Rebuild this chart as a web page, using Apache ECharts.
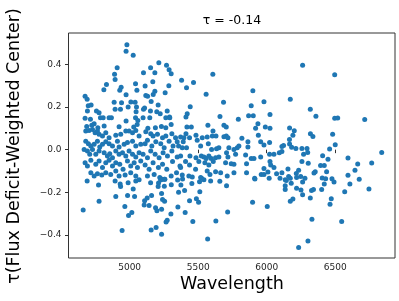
<!DOCTYPE html>
<html>
<head>
<meta charset="utf-8">
<script src="https://cdn.jsdelivr.net/npm/echarts@6/dist/echarts.min.js"></script>
<style>
  html, body { margin: 0; padding: 0; background: #fff; }
  #chart { width: 399px; height: 301px; }
</style>
</head>
<body>
<div id="chart"></div>
<script>
// tick labels
const xTicks = [5000, 5500, 6000, 6500];
const yTicks = [-0.4, -0.2, 0.0, 0.2, 0.4];
const titleText = 'τ = -0.14';
const xName = 'Wavelength';
const yName = 'τ(Flux Deficit-Weighted Center)';

// [wavelength, tau], grouped by area
const topPoints = [
  [4980,0.492],[4974,0.462],[5026,0.443],[4909,0.384],[4890,0.354],[4894,0.329],[4831,0.306],[4812,0.281],
  [4938,0.293],[4928,0.278],[4974,0.258],[4675,0.251],[4690,0.236],[4698,0.206],[4719,0.209],[4887,0.222],
  [4941,0.220],[5009,0.223],[5040,0.222],[5050,0.200],[5043,0.309],[5053,0.279],[5101,0.361],[5153,0.384],
  [5184,0.361],[5213,0.407],[5269,0.396],[5288,0.375],[5303,0.356],[5113,0.298],[5169,0.318],[5286,0.300],
  [5259,0.267],[5118,0.254],[5131,0.251],[5172,0.259],[5184,0.274],[5157,0.226],[5208,0.209],[5109,0.195],
  [5379,0.326],[5415,0.290],[5466,0.315],[5607,0.354],[5558,0.260],[5685,0.222],[5899,0.276],[5887,0.206],
  [5980,0.225],[5442,0.201],[6262,0.396],[6496,0.351],[6172,0.236]
];

const denseLeft = [
  [4692,0.181],[4777,0.173],[4758,0.181],[4894,0.190],[4933,0.189],[4989,0.200],[5047,0.178],[5101,0.190],
  [5152,0.181],[5198,0.178],[5223,0.168],[5274,0.181],[5291,0.153],
  [4675,0.147],[4714,0.143],[4787,0.150],[4807,0.150],[4850,0.150],[4867,0.150],[4974,0.134],[5043,0.150],
  [5060,0.137],[5098,0.150],[5147,0.150],[5264,0.150],[5293,0.150],
  [4687,0.109],[4724,0.115],[4741,0.122],[4768,0.103],[4814,0.111],[4923,0.107],[5030,0.106],[5055,0.118],
  [5133,0.100],[5188,0.103],[5232,0.109],[5264,0.103],[5303,0.118],
  [4680,0.087],[4704,0.090],[4729,0.095],[4748,0.079],[4765,0.087],[4777,0.072],[4802,0.064],[4826,0.079],
  [4850,0.056],[4899,0.068],[4935,0.072],[4972,0.087],[4996,0.087],[5021,0.079],[5045,0.090],[5069,0.064],
  [5118,0.084],[5154,0.075],[5171,0.064],[5203,0.072],[5240,0.056],[5264,0.064],[5308,0.075],
  [4680,0.040],[4699,0.028],[4717,0.017],[4741,0.025],[4765,0.040],[4782,0.012],[4802,0.025],[4826,0.037],
  [4850,0.028],[4875,0.017],[4911,0.040],[4923,0.012],[4960,0.025],[4984,0.033],[5021,0.040],[5045,0.017],
  [5081,0.025],[5113,0.028],[5130,0.044],[5162,0.017],[5191,0.037],[5227,0.028],[5252,0.009],[5288,0.040],
  [5317,0.017],
  [4668,0.001],[4692,-0.006],[4709,-0.022],[4729,0.001],[4753,-0.022],[4777,-0.006],[4814,-0.014],[4838,-0.030],
  [4855,-0.019],[4875,-0.038],[4899,-0.006],[4923,-0.022],[4948,-0.014],[4972,-0.030],[4996,-0.006],[5021,-0.022],
  [5045,-0.035],[5069,-0.014],[5098,-0.022],[5130,-0.038],[5154,-0.006],[5186,-0.022],[5215,-0.038],[5244,-0.014],
  [5276,-0.030],[5308,-0.006],
  [4675,-0.061],[4692,-0.077],[4717,-0.050],[4753,-0.069],[4777,-0.053],[4802,-0.084],[4826,-0.061],[4850,-0.050],
  [4875,-0.077],[4899,-0.061],[4928,-0.069],[4952,-0.092],[4984,-0.053],[5008,-0.077],[5033,-0.061],[5057,-0.084],
  [5081,-0.053],[5113,-0.072],[5142,-0.092],[5171,-0.061],[5210,-0.084],[5240,-0.069],[5271,-0.092],[5313,-0.056],
  [4717,-0.108],[4741,-0.123],[4765,-0.113],[4797,-0.119],[4826,-0.108],[4862,-0.116],[4899,-0.100],[4923,-0.123],
  [4967,-0.119],[5008,-0.108],[5045,-0.123],[5130,-0.123],[5179,-0.116],[5220,-0.131],[5257,-0.139],[5303,-0.123]
];

const denseMid = [
  [5420,0.168],[5411,0.153],[5659,0.156],[5793,0.143],[5868,0.159],[5902,0.159],[6024,0.165],
  [5418,0.106],[5450,0.106],[5571,0.115],[5688,0.115],[5705,0.106],[5919,0.100],[5936,0.122],[5990,0.106],
  [6024,0.100],
  [5335,0.056],[5372,0.059],[5396,0.056],[5411,0.075],[5437,0.056],[5484,0.068],[5530,0.056],[5566,0.059],
  [5603,0.064],[5608,0.087],[5630,0.064],[5688,0.061],[5705,0.064],[5717,0.056],[5819,0.053],[5863,0.037],
  [5939,0.068],[5956,0.037],
  [5347,0.037],[5391,0.037],[5357,0.017],[5384,0.009],[5415,0.009],[5493,0.044],[5518,0.017],[5574,0.028],
  [5598,0.001],[5634,0.004],[5651,0.009],[5724,0.009],[5761,0.001],[5785,0.009],[5797,0.017],[5863,0.012],
  [5980,0.022],[6021,0.033],
  [5347,-0.035],[5372,-0.030],[5440,-0.030],[5484,-0.038],[5523,-0.030],[5542,-0.035],[5559,-0.041],[5578,-0.030],
  [5595,-0.041],[5627,-0.038],[5651,-0.035],[5707,-0.014],[5717,-0.035],[5773,-0.022],[5846,-0.025],[5887,-0.041],
  [5907,-0.041],[5956,-0.035],[6021,-0.022],[6053,-0.022],[6092,-0.014],
  [5367,-0.077],[5372,-0.084],[5408,-0.056],[5437,-0.072],[5505,-0.056],[5549,-0.061],[5578,-0.072],[5610,-0.056],
  [5700,-0.061],[5741,-0.066],[5761,-0.069],[5853,-0.066],[5980,-0.088],[6024,-0.056],[6029,-0.072],[6053,-0.084],
  [5342,-0.108],[5384,-0.119],[5432,-0.123],[5481,-0.092],[5518,-0.131],[5566,-0.100],[5586,-0.116],[5627,-0.103],
  [5664,-0.108],[5712,-0.123],[5761,-0.108],[5853,-0.108],[5912,-0.134],[5960,-0.116],[5980,-0.116],[6009,-0.105],
  [6072,-0.113],[6097,-0.134],[5457,-0.128],[5591,-0.147]
];

const rightPoints = [
  [6318,0.189],[6359,0.157],[6496,0.147],[6518,0.148],[6715,0.141],[6167,0.101],[6201,0.089],[6191,0.068],
  [6166,0.048],[6319,0.075],[6337,0.062],[6481,0.072],[6500,0.023],[6459,0.003],[6123,0.019],[6111,0.015],
  [6167,0.026],[6182,0.011],[6213,0.006],[6257,0.006],[6294,0.006],[6299,-0.013],[6269,-0.022],[6111,-0.009],
  [6408,-0.028],[6447,-0.045],[6593,-0.039],[6839,-0.013],[6257,-0.056],[6303,-0.064],[6393,-0.074],[6420,-0.074],
  [6664,-0.067],[6766,-0.063],[6155,-0.091],[6233,-0.096],[6216,-0.112],[6111,-0.108],[6437,-0.103],[6354,-0.103],
  [6345,-0.110],[6644,-0.097],[6160,-0.126],[6172,-0.134],[6218,-0.130],[6248,-0.126],[6279,-0.134],[6135,-0.141],
  [6143,-0.145],[6405,-0.133],[6430,-0.136],[6476,-0.136],[6593,-0.120],[6675,-0.139],[6262,-0.152],[6491,-0.152]
];

const lowerPoints = [
  [4690,-0.147],[4773,-0.166],[4894,-0.147],[4931,-0.161],[4934,-0.173],[4989,-0.155],[5045,-0.147],[5069,-0.141],
  [5026,-0.185],[5153,-0.155],[5211,-0.156],[5208,-0.173],[5226,-0.142],[5240,-0.139],[5255,-0.139],[5253,-0.172],
  [5304,-0.164],[5233,-0.205],[4777,-0.242],[4899,-0.220],[4985,-0.215],[5036,-0.220],[5128,-0.227],[5109,-0.239],
  [5160,-0.215],[5106,-0.259],[5142,-0.262],[5189,-0.272],[5199,-0.286],[5233,-0.280],[5240,-0.234],[5255,-0.242],
  [5301,-0.302],[4965,-0.266],[5016,-0.295],[4992,-0.309],[4661,-0.283],[5274,-0.331],[5266,-0.339],[4945,-0.379],
  [5157,-0.377],[5193,-0.365],[5233,-0.397],
  [5350,-0.142],[5386,-0.138],[5525,-0.134],[5542,-0.141],[5510,-0.150],[5658,-0.148],[5707,-0.169],[5914,-0.138],
  [6018,-0.134],[5374,-0.166],[5454,-0.159],[5357,-0.200],[5401,-0.191],[5512,-0.197],[5437,-0.239],[5487,-0.230],
  [5503,-0.247],[5352,-0.269],[5405,-0.295],[5715,-0.292],[5897,-0.247],[6004,-0.266],[5461,-0.337],[5629,-0.334],
  [5569,-0.419],
  [6179,-0.158],[6420,-0.161],[6607,-0.161],[6135,-0.169],[6135,-0.187],[6218,-0.181],[6250,-0.189],[6262,-0.211],
  [6327,-0.191],[6341,-0.187],[6401,-0.187],[6569,-0.197],[6746,-0.185],[6191,-0.231],[6172,-0.242],[6318,-0.227],
  [6471,-0.230],[6462,-0.256],[6330,-0.326],[6547,-0.337],[6301,-0.428],[6233,-0.459]
];

const allPoints = [].concat(topPoints, denseLeft, denseMid, rightPoints, lowerPoints);

const chart = echarts.init(document.getElementById('chart'));

const tickFont = { fontFamily: 'DejaVu Sans', fontSize: 9, color: '#262626' };

chart.setOption({
  animation: false,
  grid: {
    left: 68.5, right: 4, top: 33, bottom: 43,
    show: true, borderColor: '#333', borderWidth: 1, backgroundColor: 'transparent'
  },
  xAxis: {
    type: 'value',
    min: 4554, max: 6936,
    axisLine: { show: false },
    splitLine: { show: false },
    axisTick: { show: true, length: 3.5, inside: false, lineStyle: { color: '#333' }, customValues: xTicks },
    axisLabel: Object.assign({ margin: 5, customValues: xTicks, formatter: v => String(v) }, tickFont)
  },
  yAxis: {
    type: 'value',
    min: -0.508, max: 0.547,
    axisLine: { show: false },
    splitLine: { show: false },
    axisTick: { show: true, length: 3.5, inside: false, lineStyle: { color: '#333' }, customValues: yTicks },
    axisLabel: Object.assign({
      margin: 7, customValues: yTicks,
      formatter: v => (v < 0 ? '\u2212' : '') + Math.abs(v).toFixed(1)
    }, tickFont)
  },
  graphic: [
    { type: 'text', x: 232, y: 21, style: { text: titleText, font: '12.5px "DejaVu Sans"', fill: '#000', align: 'center', verticalAlign: 'middle' } },
    { type: 'text', x: 232, y: 284, style: { text: xName, font: '17.5px "DejaVu Sans"', fill: '#000', align: 'center', verticalAlign: 'middle' } },
    { type: 'text', x: 14, y: 146, rotation: Math.PI / 2, style: { text: yName, font: '17.5px "DejaVu Sans"', fill: '#000', align: 'center', verticalAlign: 'middle' } }
  ],
  series: [{
    type: 'scatter',
    data: allPoints,
    symbol: 'circle',
    symbolSize: 5,
    itemStyle: { color: '#1f77b4', opacity: 1 }
  }]
});
</script>
</body>
</html>
